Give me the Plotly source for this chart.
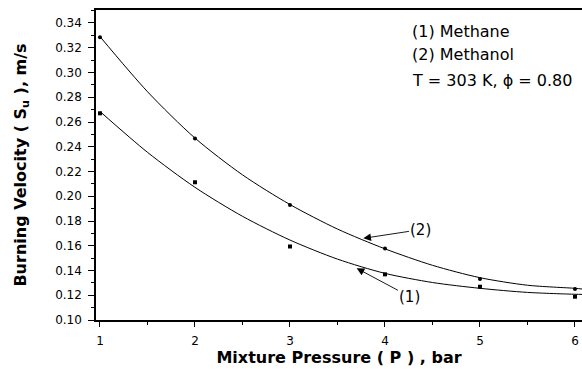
import plotly.graph_objects as go

# Measured data points
pressure = [1, 2, 3, 4, 5, 6]
methane_pts = [0.267, 0.2113, 0.1594, 0.1369, 0.1269, 0.1188]
methanol_pts = [0.3284, 0.2466, 0.1929, 0.1578, 0.1331, 0.1251]

# Fitted curves
curve_x = [1.0, 1.5, 2.0, 2.5, 3.0, 3.5, 4.0, 4.5, 5.0, 5.5, 6.0, 6.08]
methane_curve = [0.2685, 0.2355, 0.2072, 0.1838, 0.1646, 0.1492, 0.1377, 0.1303, 0.1256, 0.1223, 0.1208, 0.1207]
methanol_curve = [0.3290, 0.2845, 0.2470, 0.2173, 0.1933, 0.1735, 0.1575, 0.1442, 0.1342, 0.1281, 0.1256, 0.1250]

y_ticks = [0.10, 0.12, 0.14, 0.16, 0.18, 0.20, 0.22, 0.24, 0.26, 0.28, 0.30, 0.32, 0.34]
x_ticks = [1, 2, 3, 4, 5, 6]

FONT = "DejaVu Sans, Liberation Sans, sans-serif"

fig = go.Figure()
fig.add_trace(go.Scatter(x=curve_x, y=methanol_curve, mode="lines",
                         line=dict(color="black", width=1, shape="spline", smoothing=0.8), showlegend=False))
fig.add_trace(go.Scatter(x=curve_x, y=methane_curve, mode="lines",
                         line=dict(color="black", width=1, shape="spline", smoothing=0.8), showlegend=False))
fig.add_trace(go.Scatter(x=pressure, y=methanol_pts, mode="markers",
                         marker=dict(symbol="circle", size=4, color="black"), showlegend=False))
fig.add_trace(go.Scatter(x=pressure, y=methane_pts, mode="markers",
                         marker=dict(symbol="square", size=4, color="black"), showlegend=False))

fig.update_layout(
    width=582, height=369,
    margin=dict(l=96, r=0, t=10, b=49),
    paper_bgcolor="white", plot_bgcolor="white",
    font=dict(family=FONT, color="black", size=12),
    xaxis=dict(range=[0.958, 6.074], tickvals=x_ticks, ticks="outside", ticklen=5,
               tickwidth=1, tickcolor="black", showline=True, linecolor="black", linewidth=1.5,
               mirror=True, showgrid=False, zeroline=False, automargin=False,
               minor=dict(dtick=0.5, tick0=0, ticks="outside", ticklen=3, tickcolor="black"),
               tickfont=dict(size=12), ticklabelstandoff=4,
               title=dict(text="<b>Mixture Pressure ( P ) , bar</b>", font=dict(size=16), standoff=2)),
    yaxis=dict(range=[0.10, 0.3505], tickvals=y_ticks, tickformat=".2f", ticks="outside", ticklen=6,
               tickwidth=1, tickcolor="black", showline=True, linecolor="black", linewidth=1.5,
               showgrid=False, zeroline=False, automargin=False,
               minor=dict(dtick=0.01, tick0=0, ticks="outside", ticklen=3, tickcolor="black"),
               tickfont=dict(size=12), ticklabelstandoff=4,
               title=dict(text="<b>Burning Velocity ( S<sub>u</sub> ), m/s</b>", font=dict(size=16), standoff=25)),
)

for txt, yp in [("(1) Methane", 0.932), ("(2) Methanol", 0.855), ("T = 303 K, \u03d5 = 0.80", 0.774)]:
    fig.add_annotation(text=txt, xref="paper", yref="paper", x=0.646, y=yp,
                       xanchor="left", yanchor="middle", showarrow=False, font=dict(size=16))

fig.add_annotation(text="(2)", x=3.772, y=0.166, ax=4.379, ay=0.1731, axref="x", ayref="y",
                   showarrow=True, arrowhead=2, arrowsize=1.7, arrowwidth=0.9, arrowcolor="black",
                   font=dict(size=15))
fig.add_annotation(text="(1)", x=3.702, y=0.1418, ax=4.263, ay=0.1188, axref="x", ayref="y",
                   showarrow=True, arrowhead=2, arrowsize=1.7, arrowwidth=0.9, arrowcolor="black",
                   font=dict(size=15))

fig.write_html("out.html", config={"displayModeBar": False},
               post_script="document.body.style.margin='0px';document.body.style.overflow='hidden';")
